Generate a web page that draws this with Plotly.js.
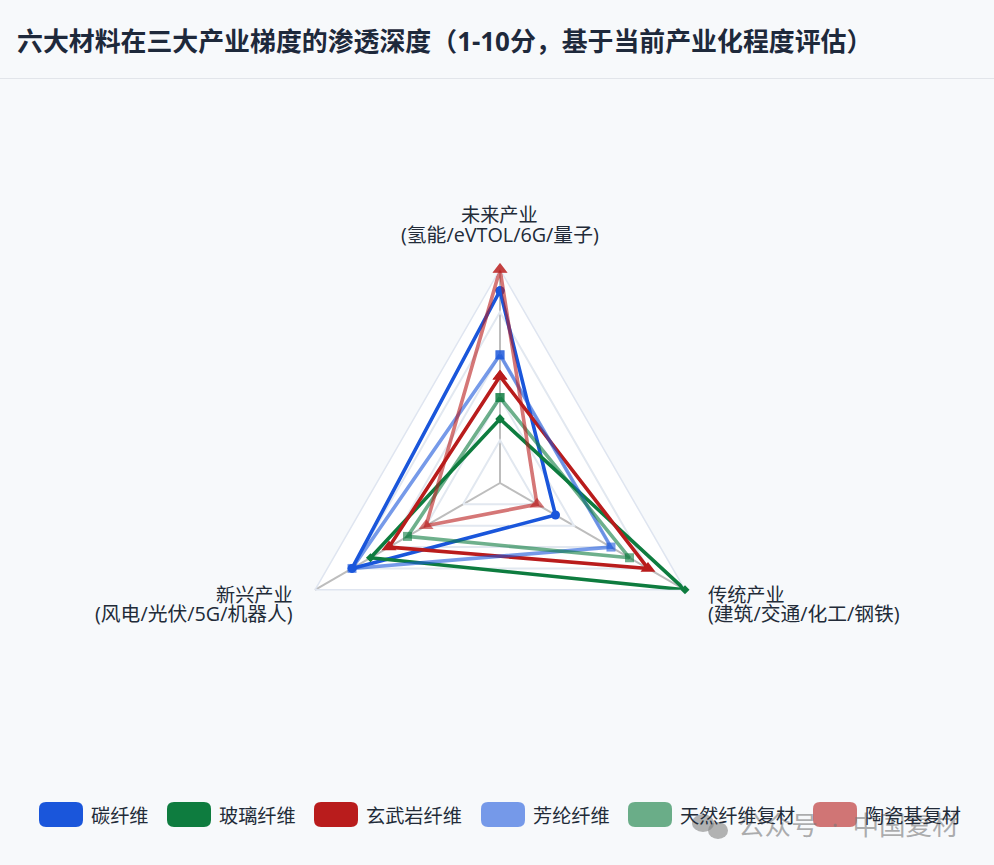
<!DOCTYPE html>
<html><head><meta charset="utf-8">
<script src="https://cdn.plot.ly/plotly-3.0.1.min.js"></script>
<style>html,body{margin:0;padding:0;background:#f7f9fb}#c{width:994px;height:865px}</style>
</head><body><div id="c"></div>
<script>
const axisNames = ['未来产业', '传统产业', '新兴产业'];
const axisDetails = ['(氢能/eVTOL/6G/量子)', '(建筑/交通/化工/钢铁)', '(风电/光伏/5G/机器人)'];
const seriesNames = ['碳纤维', '玻璃纤维', '玄武岩纤维', '芳纶纤维', '天然纤维复材', '陶瓷基复材'];
const carbon = [9, 3, 8];
const glass = [3, 10, 7];
const basalt = [5, 8, 6];
const aramid = [6, 6, 8];
const natural = [4, 7, 5];
const ceramic = [10, 2, 4];
const seriesValues = [carbon, glass, basalt, aramid, natural, ceramic];
const colors = ['#1a56db', '#0e7c3f', '#b91c1c', '#7599e9', '#6aad88', '#d07575'];
const lineColors = ['rgba(26,86,219,1)', 'rgba(14,124,63,1)', 'rgba(185,28,28,1)', 'rgba(26,86,219,0.6)', 'rgba(14,124,63,0.6)', 'rgba(185,28,28,0.6)'];
const symbols = ['circle', 'diamond', 'triangle-up', 'square', 'square', 'triangle-up'];
const sizes = [9, 7, 13, 9, 9, 13];
const title = '六大材料在三大产业梯度的渗透深度（1-10分，基于当前产业化程度评估）';
const watermark = '公众号\u00a0\u00a0·\u00a0\u00a0中国复材';
const W = 994, H = 865;
const fam = '"Open Sans","Noto Sans CJK SC",sans-serif';
const px = x => x / W, py = y => 1 - y / H;

const traces = seriesNames.map((n, i) => ({
  type: 'scatterpolar', mode: 'lines+markers', name: n,
  r: seriesValues[i].concat(seriesValues[i][0]),
  theta: axisNames.concat(axisNames[0]),
  line: {color: lineColors[i], width: 3.6},
  marker: {color: lineColors[i], symbol: symbols[i], size: sizes[i], line: {width: 0}},
  cliponaxis: false, showlegend: false
}));

function rr(x, y, w, h, r) {
  return `M${px(x + r)},${py(y)}L${px(x + w - r)},${py(y)}Q${px(x + w)},${py(y)} ${px(x + w)},${py(y + r)}L${px(x + w)},${py(y + h - r)}Q${px(x + w)},${py(y + h)} ${px(x + w - r)},${py(y + h)}L${px(x + r)},${py(y + h)}Q${px(x)},${py(y + h)} ${px(x)},${py(y + h - r)}L${px(x)},${py(y + r)}Q${px(x)},${py(y)} ${px(x + r)},${py(y)}Z`;
}
const chipX = [39, 167, 314, 481, 628, 813];
const shapes = chipX.map((x, i) => ({type: 'path', xref: 'paper', yref: 'paper', path: rr(x, 802, 44, 25, 7), fillcolor: colors[i], line: {width: 0}}));
shapes.push({type: 'line', xref: 'paper', yref: 'paper', x0: 0, x1: 1, y0: py(78.5), y1: py(78.5), line: {color: '#e2e5ea', width: 1}});
// watermark icon
shapes.push({type: 'circle', xref: 'paper', yref: 'paper', x0: px(692), x1: px(714), y0: py(832), y1: py(814), fillcolor: 'rgba(130,130,130,0.6)', line: {width: 0}});
shapes.push({type: 'circle', xref: 'paper', yref: 'paper', x0: px(708), x1: px(728), y0: py(839), y1: py(822), fillcolor: 'rgba(130,130,130,0.6)', line: {width: 0}});

function label(text, x, y, anchor, size) {
  return {text, xref: 'paper', yref: 'paper', x: px(x), y: py(y), xanchor: anchor, yanchor: 'middle', showarrow: false, font: {family: fam, size: size || 19.2, color: '#222b38'}, borderpad: 0, borderwidth: 0};
}
const annotations = [
  {text: '<b>' + title + '</b>', xref: 'paper', yref: 'paper', x: px(15), y: py(41), xanchor: 'left', yanchor: 'middle', showarrow: false, font: {family: fam, size: 25.9, color: '#1e293b'}},
  {text: watermark, xref: 'paper', yref: 'paper', x: px(736), y: py(825), xanchor: 'left', yanchor: 'middle', showarrow: false, font: {family: fam, size: 26.6, color: 'rgba(120,120,120,0.6)'}},
  label(axisNames[0], 500, 214.5, 'center'), label(axisDetails[0], 500, 234.5, 'center', 19.8),
  label(axisNames[1], 708, 594, 'left'), label(axisDetails[1], 708, 613, 'left', 19.8),
  label(axisNames[2], 293, 594, 'right'), label(axisDetails[2], 293, 613, 'right', 19.8)
].concat(seriesNames.map((n, i) => label(n, chipX[i] + 52, 815, 'left')));

Plotly.newPlot('c', traces, {
  width: W, height: H,
  margin: {l: 0, r: 0, t: 0, b: 0},
  paper_bgcolor: '#f7f9fb',
  shapes, annotations, showlegend: false,
  polar: {
    domain: {x: [px(286.4), px(713.6)], y: [py(696.6), py(269.4)]},
    bgcolor: '#ffffff',
    gridshape: 'linear',
    radialaxis: {range: [0, 10], tick0: 0, dtick: 2, showticklabels: false, ticks: '', showline: false, gridcolor: '#e2e8f0', gridwidth: 1.5, layer: 'below traces'},
    angularaxis: {direction: 'clockwise', rotation: 90, type: 'category', categoryorder: 'array', categoryarray: axisNames, showticklabels: false, gridcolor: '#bdbdbd', gridwidth: 1.5, linecolor: '#dfe5f0', linewidth: 1.5, ticks: '', layer: 'below traces'}
  }
}, {displayModeBar: false, responsive: false});
</script></body></html>
